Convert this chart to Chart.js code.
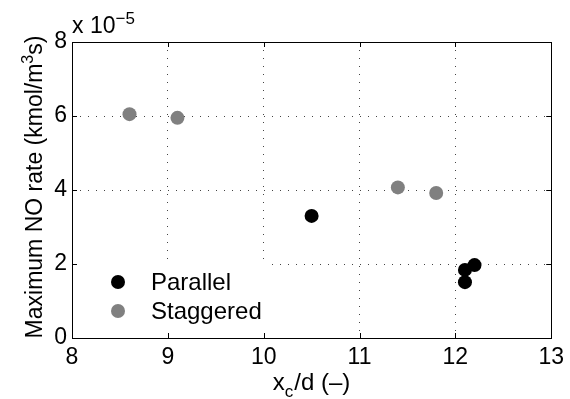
<!DOCTYPE html>
<html><head><meta charset="utf-8">
<script src="https://cdn.jsdelivr.net/npm/chart.js@4.4.0/dist/chart.umd.min.js"></script>
<style>html,body{margin:0;padding:0;background:#fff;}canvas{display:block;}</style>
</head><body>
<canvas id="c" width="570" height="399"></canvas>
<script>
// ---- data ----
const xTicks = [8, 9, 10, 11, 12, 13];
const yTicks = [0, 2e-5, 4e-5, 6e-5, 8e-5];
const seriesNames = ['Parallel', 'Staggered'];
const seriesColors = ['#000000', '#808080'];
const parallelX = [10.5, 12.1, 12.2, 12.1];
const parallelY = [3.30e-5, 1.84e-5, 1.97e-5, 1.51e-5];
const staggeredX = [8.6, 9.1, 11.4, 11.8];
const staggeredY = [6.05e-5, 5.95e-5, 4.07e-5, 3.92e-5];

const FONT = "'Liberation Sans', Arial, Helvetica, sans-serif";
const TICK_SIZE = 23, TITLE_SIZE = 23, LEGEND_SIZE = 24;

function toPoints(xs, ys) { return xs.map((x, i) => ({x: x, y: ys[i]})); }

const decor = {
  id: 'decor',
  beforeDatasetsDraw(chart) {
    const {ctx, chartArea: a} = chart;
    ctx.save();
    ctx.fillStyle = '#ffffff';
    ctx.fillRect(a.left + 1, 260, 197, a.bottom - 260);
    ctx.restore();
  },
  afterDraw(chart) {
    const {ctx, chartArea: a, scales} = chart;
    const xs = scales.x, ys = scales.y;
    ctx.save();
    // axes box
    ctx.strokeStyle = '#000';
    ctx.lineWidth = 1;
    ctx.setLineDash([]);
    ctx.strokeRect(Math.round(a.left) + 0.5, Math.round(a.top) + 0.5,
                   Math.round(a.right) - Math.round(a.left), Math.round(a.bottom) - Math.round(a.top));
    // inward ticks
    const TL = 5;
    ctx.beginPath();
    xTicks.forEach(v => {
      const p = Math.round(xs.getPixelForValue(v)) + 0.5;
      ctx.moveTo(p, a.bottom); ctx.lineTo(p, a.bottom - TL);
      ctx.moveTo(p, a.top); ctx.lineTo(p, a.top + TL);
    });
    yTicks.forEach(v => {
      const p = Math.round(ys.getPixelForValue(v)) + 0.5;
      ctx.moveTo(a.left, p); ctx.lineTo(a.left + TL, p);
      ctx.moveTo(a.right, p); ctx.lineTo(a.right - TL, p);
    });
    ctx.stroke();

    ctx.fillStyle = '#000';
    ctx.textBaseline = 'alphabetic';
    // exponent label
    ctx.textAlign = 'left';
    ctx.font = TITLE_SIZE + 'px ' + FONT;
    const base = 'x 10';
    ctx.fillText(base, a.left, 33);
    const bw = ctx.measureText(base).width;
    ctx.font = '17px ' + FONT;
    ctx.fillText('\u22125', a.left + bw, 24);

    // x title: x_c/d (–)
    ctx.font = '24px ' + FONT;
    const p1 = 'x', p3 = '/d (\u2013)';
    const w1 = ctx.measureText(p1).width, w3 = ctx.measureText(p3).width;
    ctx.font = '17px ' + FONT;
    const w2 = ctx.measureText('c').width + 1;
    const total = w1 + w2 + w3;
    let x0 = (a.left + a.right) / 2 - total / 2;
    const by = 390;
    ctx.font = '24px ' + FONT;
    ctx.fillText(p1, x0, by);
    ctx.font = '17px ' + FONT;
    ctx.fillText('c', x0 + w1, by + 7);
    ctx.font = '24px ' + FONT;
    ctx.fillText(p3, x0 + w1 + w2, by);

    // y title: Maximum NO rate (kmol/m^3s)
    ctx.save();
    ctx.translate(42, (a.top + a.bottom) / 2 - 3);
    ctx.rotate(-Math.PI / 2);
    ctx.font = TITLE_SIZE + 'px ' + FONT;
    const q1 = 'Maximum NO rate (kmol/m', q3 = 's)';
    const v1 = ctx.measureText(q1).width, v3 = ctx.measureText(q3).width;
    ctx.font = '16px ' + FONT;
    const v2 = ctx.measureText('3').width;
    let s0 = -(v1 + v2 + v3) / 2;
    ctx.font = TITLE_SIZE + 'px ' + FONT;
    ctx.fillText(q1, s0, 0);
    ctx.font = '16px ' + FONT;
    ctx.fillText('3', s0 + v1, -9);
    ctx.font = TITLE_SIZE + 'px ' + FONT;
    ctx.fillText(q3, s0 + v1 + v2, 0);
    ctx.restore();

    // legend
    const rows = [282, 311];
    chart.data.datasets.forEach((ds, i) => {
      ctx.beginPath();
      ctx.fillStyle = seriesColors[i];
      ctx.arc(a.left + 46, rows[i], 7, 0, Math.PI * 2);
      ctx.fill();
      ctx.fillStyle = '#000';
      ctx.font = LEGEND_SIZE + 'px ' + FONT;
      ctx.textBaseline = 'middle';
      ctx.textAlign = 'left';
      ctx.fillText(ds.label, a.left + 79, rows[i] + 1);
    });
    ctx.restore();
  }
};

new Chart(document.getElementById('c'), {
  type: 'scatter',
  data: {
    datasets: [
      {label: seriesNames[0], data: toPoints(parallelX, parallelY),
       pointBackgroundColor: seriesColors[0], pointBorderColor: seriesColors[0],
       pointBorderWidth: 0, pointRadius: 7, pointHoverRadius: 7},
      {label: seriesNames[1], data: toPoints(staggeredX, staggeredY),
       pointBackgroundColor: seriesColors[1], pointBorderColor: seriesColors[1],
       pointBorderWidth: 0, pointRadius: 7, pointHoverRadius: 7}
    ]
  },
  options: {
    responsive: false, animation: false, devicePixelRatio: 1,
    layout: {padding: {top: 42, right: 14, left: 0, bottom: 0}},
    plugins: {legend: {display: false}, tooltip: {enabled: false}},
    scales: {
      x: {
        type: 'linear', min: 8, max: 13,
        afterFit(s) { s.height = 61; },
        afterBuildTicks(s) { s.ticks = xTicks.map(v => ({value: v})); },
        ticks: {font: {family: FONT, size: TICK_SIZE}, color: '#000', padding: 6, maxRotation: 0, autoSkip: false},
        grid: {color: '#444', lineWidth: 1, drawTicks: false},
        border: {display: false, dash: [1, 7]}
      },
      y: {
        type: 'linear', min: 0, max: 8e-5,
        afterFit(s) { s.width = 72; },
        afterBuildTicks(s) { s.ticks = yTicks.map(v => ({value: v})); },
        ticks: {font: {family: FONT, size: TICK_SIZE}, color: '#000', padding: 5, autoSkip: false,
                callback: v => String(Math.round(v / 1e-5))},
        grid: {color: '#444', lineWidth: 1, drawTicks: false},
        border: {display: false, dash: [1, 7]}
      }
    }
  },
  plugins: [decor]
});
</script>
</body></html>
